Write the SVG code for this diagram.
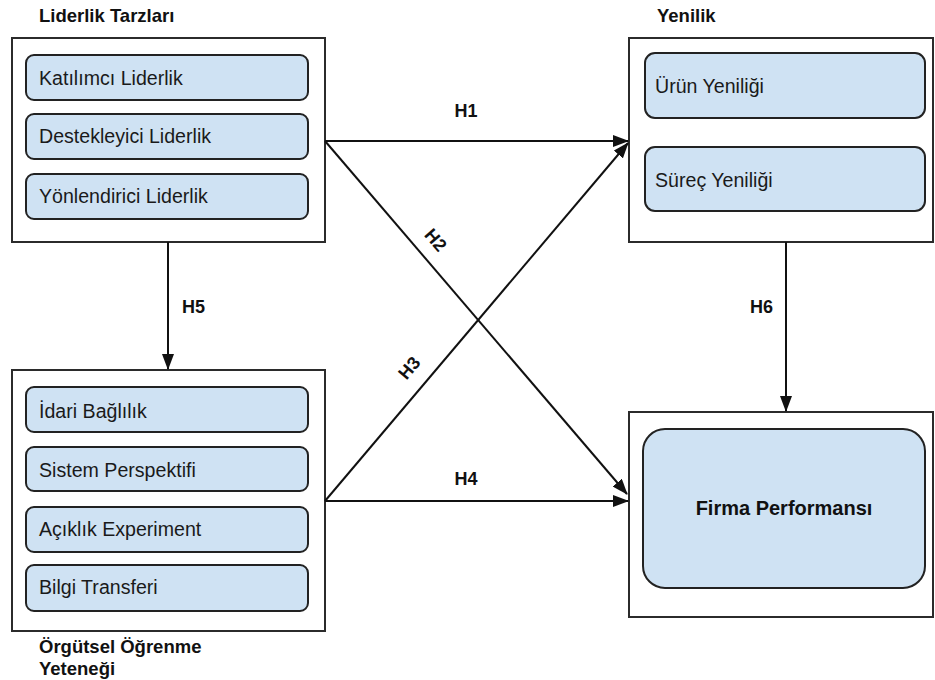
<svg xmlns="http://www.w3.org/2000/svg" width="935" height="680" viewBox="0 0 935 680">
<style>
.outer{fill:#fff;stroke:#2b2b2b;stroke-width:2}
.inner{fill:#cfe2f3;stroke:#222;stroke-width:2}
.t{font-family:"Liberation Sans",Arial,sans-serif;font-size:19.6px;fill:#1a1a1a}
.b{font-family:"Liberation Sans",Arial,sans-serif;font-size:18.5px;font-weight:bold;fill:#111}
.f{font-family:"Liberation Sans",Arial,sans-serif;font-size:20px;font-weight:bold;fill:#111}
.h{font-family:"Liberation Sans",Arial,sans-serif;font-size:18px;font-weight:bold;fill:#111}
.c{fill:none;stroke:#111;stroke-width:2}
</style>
<defs>
<marker id="arr" markerUnits="userSpaceOnUse" markerWidth="16" markerHeight="12" viewBox="0 0 16 12" refX="15" refY="6" orient="auto">
<path d="M0,0 L16,6 L0,12 Z" fill="#111"/>
</marker>
</defs>
<rect width="935" height="680" fill="#fff"/>
<g id="liderlik">
<text class="b" x="39" y="22">Liderlik Tarzları</text>
<rect class="outer" x="12" y="38" width="313" height="204"/>
<rect class="inner" x="26" y="55" width="282" height="45" rx="8"/>
<text class="t" x="39" y="85">Katılımcı Liderlik</text>
<rect class="inner" x="26" y="114" width="282" height="45" rx="8"/>
<text class="t" x="39" y="143">Destekleyici Liderlik</text>
<rect class="inner" x="26" y="174" width="282" height="45" rx="8"/>
<text class="t" x="39" y="203">Yönlendirici Liderlik</text>
</g>
<g id="orgutsel">
<rect class="outer" x="12" y="370" width="313" height="261"/>
<rect class="inner" x="26" y="387" width="282" height="45" rx="8"/>
<text class="t" x="39" y="418">İdari Bağlılık</text>
<rect class="inner" x="26" y="447" width="282" height="44" rx="8"/>
<text class="t" x="39" y="477">Sistem Perspektifi</text>
<rect class="inner" x="26" y="507" width="282" height="45" rx="8"/>
<text class="t" x="39" y="536">Açıklık Experiment</text>
<rect class="inner" x="26" y="565" width="282" height="46" rx="8"/>
<text class="t" x="39" y="594">Bilgi Transferi</text>
<text class="b" x="39" y="653">Örgütsel Öğrenme</text>
<text class="b" x="39" y="675">Yeteneği</text>
</g>
<g id="yenilik">
<text class="b" x="657" y="22">Yenilik</text>
<rect class="outer" x="629" y="38" width="304" height="204"/>
<rect class="inner" x="645" y="53" width="280" height="65" rx="10"/>
<text class="t" x="655" y="93">Ürün Yeniliği</text>
<rect class="inner" x="645" y="147" width="280" height="64" rx="10"/>
<text class="t" x="655" y="187">Süreç Yeniliği</text>
</g>
<g id="firma">
<rect class="outer" x="629" y="412" width="304" height="205"/>
<rect class="inner" x="643" y="429" width="282" height="159" rx="22"/>
<text class="f" x="784" y="515" text-anchor="middle">Firma Performansı</text>
</g>
<g id="connectors">
<line class="c" x1="325" y1="141" x2="628" y2="141" marker-end="url(#arr)"/>
<line class="c" x1="325" y1="141" x2="627" y2="494" marker-end="url(#arr)"/>
<line class="c" x1="325" y1="501" x2="628" y2="143" marker-end="url(#arr)"/>
<line class="c" x1="325" y1="501" x2="628" y2="501" marker-end="url(#arr)"/>
<line class="c" x1="168" y1="242" x2="168" y2="369" marker-end="url(#arr)"/>
<line class="c" x1="786" y1="242" x2="786" y2="411" marker-end="url(#arr)"/>
<text class="h" x="466" y="117" text-anchor="middle">H1</text>
<text class="h" x="431" y="244" text-anchor="middle" transform="rotate(49.5 431 244)">H2</text>
<text class="h" x="414" y="372" text-anchor="middle" transform="rotate(-50 414 372)">H3</text>
<text class="h" x="466" y="485" text-anchor="middle">H4</text>
<text class="h" x="182" y="313">H5</text>
<text class="h" x="773" y="313" text-anchor="end">H6</text>
</g>
</svg>
